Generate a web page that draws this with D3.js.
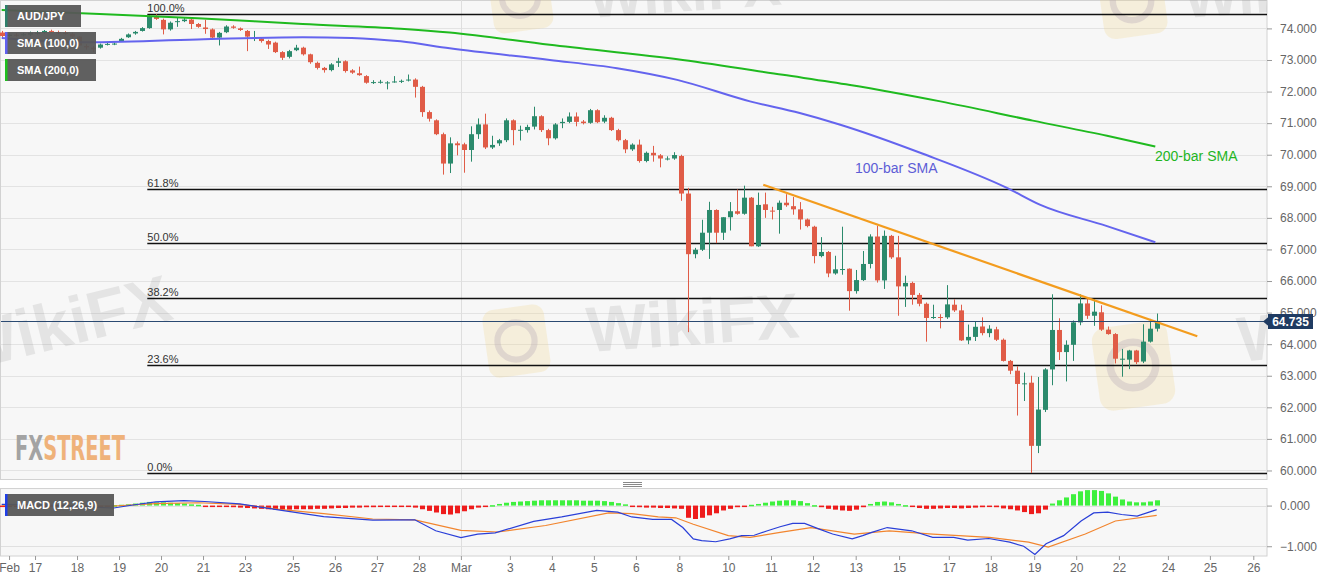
<!DOCTYPE html>
<html>
<head>
<meta charset="utf-8">
<script src="https://cdn.jsdelivr.net/npm/d3@7"></script>
<style>
html, body { margin: 0; padding: 0; background: #fff; }
svg { display: block; font-family: "Liberation Sans", Arial, sans-serif; }
</style>
</head>
<body>
<svg id="chart" width="1331" height="583"></svg>
<script>
// AUD/JPY 4h candles, bar 0 = first visible bar
var opens = [
  73.87,73.76,73.80,73.78,73.80,73.86,73.86,73.92,73.88,73.86,
  73.83,73.74,73.44,73.39,73.39,73.50,73.51,73.60,73.72,73.84,
  73.92,74.01,74.38,74.27,73.97,74.22,74.23,74.28,74.14,74.03,
  73.97,73.71,73.88,74.06,74.00,73.92,73.70,73.68,73.60,73.55,
  73.25,73.10,73.31,73.39,73.18,72.91,72.75,72.68,72.91,72.96,
  72.67,72.58,72.49,72.30,72.30,72.28,72.32,72.31,72.35,72.38,
  72.15,71.35,71.09,70.65,69.72,70.36,70.33,70.15,70.65,70.96,
  70.23,70.36,70.46,71.09,70.78,70.78,70.89,71.22,70.78,70.52,
  71.00,71.04,71.21,71.05,71.01,71.41,71.05,71.17,70.78,70.46,
  70.17,70.32,69.80,70.06,69.98,69.88,69.88,69.96,68.77,66.85,
  66.99,67.53,68.25,67.53,68.02,68.21,68.13,68.64,67.10,68.43,
  68.23,68.25,68.48,68.37,68.27,67.95,67.72,66.79,66.92,66.24,
  66.37,66.39,65.68,66.03,66.54,67.41,66.02,67.43,66.75,65.83,
  65.94,65.56,65.28,64.86,64.86,64.85,65.25,65.07,64.12,64.23,
  64.56,64.35,64.47,64.14,63.47,63.16,62.76,62.78,60.78,61.92,
  63.20,64.45,63.75,63.98,64.69,65.29,64.90,65.01,64.46,64.32,
  63.54,63.51,63.80,63.45,64.08,64.49
];
var highs = [
  73.92,73.84,73.85,73.86,73.90,73.92,73.95,73.96,73.93,73.91,
  73.87,73.76,73.50,73.44,73.52,73.56,73.56,73.70,73.84,73.92,
  74.04,74.42,74.45,74.31,74.22,74.33,74.33,74.31,74.17,74.27,
  74.00,73.89,74.10,74.10,74.03,73.95,73.92,73.72,73.64,73.58,
  73.28,73.32,73.48,73.42,73.20,72.95,72.78,72.90,73.07,72.99,
  72.71,72.79,72.52,72.36,72.37,72.33,72.49,72.38,72.54,72.42,
  72.18,71.40,71.12,70.70,70.55,70.42,70.38,70.90,71.15,71.30,
  70.60,70.50,71.15,71.12,70.92,70.95,71.52,71.25,70.82,71.00,
  71.15,71.34,71.34,71.10,71.45,71.44,71.25,71.20,70.82,70.50,
  70.36,70.48,70.10,70.28,70.02,69.95,70.08,70.00,68.95,67.05,
  67.94,68.51,68.27,68.02,68.50,68.90,69.02,68.66,68.80,68.80,
  68.35,68.55,68.75,68.66,68.50,67.98,67.75,67.39,66.95,66.80,
  67.72,66.40,66.35,66.95,67.48,67.75,67.60,67.46,67.43,66.17,
  65.98,65.62,65.32,65.25,64.95,65.87,65.42,65.25,64.62,64.72,
  64.85,64.60,64.55,64.18,63.50,63.30,63.10,63.00,62.96,63.24,
  65.58,64.82,64.12,64.75,65.58,65.44,65.43,65.23,64.56,64.35,
  63.85,63.82,63.82,64.63,64.80,64.97
];
var lows = [
  73.70,73.72,73.74,73.75,73.76,73.80,73.83,73.86,73.82,73.80,
  73.70,73.44,73.33,73.25,73.36,73.46,73.47,73.57,73.70,73.80,
  73.90,73.99,74.27,73.81,73.93,74.05,74.20,73.98,74.02,73.83,
  73.68,73.46,73.85,73.99,73.92,73.28,73.60,73.55,73.35,73.22,
  73.00,73.05,73.28,73.14,72.88,72.70,72.60,72.64,72.78,72.60,
  72.56,72.50,72.25,72.24,72.25,72.07,72.28,72.27,72.32,71.81,
  71.20,71.05,70.62,69.37,69.42,69.98,69.43,69.78,70.50,70.18,
  70.18,70.28,70.40,70.30,70.45,70.70,70.80,70.72,70.30,70.48,
  70.84,71.00,70.90,70.96,70.98,71.00,71.00,70.75,70.42,70.05,
  70.12,69.75,69.76,69.78,69.60,69.82,69.84,68.54,64.38,66.72,
  66.95,66.70,67.20,67.30,67.60,68.10,68.10,67.10,67.08,68.00,
  67.95,67.50,68.35,68.10,67.63,67.70,66.56,66.75,66.12,66.20,
  66.20,65.06,65.60,66.00,66.40,65.95,65.75,66.70,64.90,65.18,
  65.25,65.20,64.08,64.80,64.50,64.80,65.02,64.10,64.00,64.10,
  64.28,64.22,64.10,63.45,63.05,61.74,62.20,59.92,60.55,61.85,
  62.70,63.50,62.82,63.47,64.60,64.80,64.58,64.42,64.30,63.39,
  62.97,63.21,63.37,63.40,64.05,64.40
];
var closes = [
  73.76,73.80,73.78,73.82,73.86,73.86,73.92,73.89,73.87,73.84,
  73.74,73.46,73.40,73.34,73.49,73.51,73.52,73.67,73.81,73.89,
  74.01,74.38,74.30,73.97,74.18,74.23,74.28,74.14,74.05,73.98,
  73.71,73.86,74.06,74.02,73.95,73.74,73.70,73.60,73.49,73.25,
  73.07,73.28,73.39,73.18,72.93,72.75,72.68,72.86,72.96,72.65,
  72.60,72.52,72.28,72.30,72.31,72.29,72.32,72.34,72.38,72.15,
  71.35,71.14,70.65,69.72,70.36,70.30,70.15,70.65,70.96,70.23,
  70.31,70.46,71.09,70.78,70.79,70.88,71.22,70.78,70.52,70.96,
  71.04,71.21,71.04,71.00,71.41,71.03,71.17,70.78,70.46,70.17,
  70.32,69.80,70.06,69.98,69.88,69.88,69.99,68.77,66.85,66.99,
  67.53,68.25,67.53,68.02,68.21,68.13,68.64,67.10,68.41,68.25,
  68.21,68.48,68.40,68.27,67.95,67.74,66.79,66.92,66.24,66.37,
  66.38,65.68,66.03,66.54,67.41,66.02,67.43,66.75,65.83,65.94,
  65.56,65.28,64.83,64.86,64.85,65.26,65.07,64.12,64.23,64.55,
  64.35,64.49,64.14,63.47,63.16,62.74,62.76,60.78,61.93,63.20,
  64.45,63.75,63.98,64.69,65.29,64.90,65.03,64.46,64.32,63.54,
  63.54,63.80,63.43,64.08,64.49,64.735
];

// moving averages (bar, value)
var sma100Bar = [0, 11, 28, 43, 50, 57, 64, 78.3, 87.9, 96.5, 106.9, 114, 119.8, 131.6, 143.6, 148.3, 157.9, 164.8];
var sma100Val = [73.70, 73.56, 73.65, 73.72, 73.70, 73.59, 73.37, 73.00, 72.74, 72.37, 71.69, 71.32, 70.95, 70.03, 68.95, 68.42, 67.74, 67.23];
var sma200Bar = [0, 14, 28, 43, 57, 64, 78.3, 97.3, 111.6, 121.2, 134.1, 147.3, 157.9, 164.8];
var sma200Val = [74.58, 74.46, 74.32, 74.14, 73.99, 73.87, 73.48, 73.00, 72.53, 72.21, 71.69, 71.08, 70.60, 70.26];

// falling resistance line
var trendBar = [108.8, 170.8];
var trendVal = [69.05, 64.25];

// fibonacci retracement
var fibLabels = ["0.0%", "23.6%", "38.2%", "50.0%", "61.8%", "100.0%"];
var fibPrices = [59.92, 63.35, 65.47, 67.19, 68.90, 74.45];
var fibStartBar = 20.8;

var lastPrice = 64.735;

// MACD (12,26,9)
var macdHist = [
  -0.02,-0.02,-0.02,-0.01,-0.01,-0.01,-0.01,-0.01,-0.01,-0.02,
  -0.02,-0.02,-0.03,-0.03,-0.02,-0.01,0.01,0.02,0.03,0.05,
  0.07,0.09,0.08,0.08,0.07,0.06,0.05,0.03,0.02,-0.01,
  -0.02,-0.03,-0.03,-0.04,-0.05,-0.06,-0.07,-0.08,-0.09,-0.10,
  -0.10,-0.10,-0.09,-0.09,-0.09,-0.08,-0.08,-0.07,-0.06,-0.06,
  -0.05,-0.05,-0.04,-0.04,-0.03,-0.03,-0.02,-0.02,-0.02,-0.05,
  -0.09,-0.13,-0.17,-0.21,-0.22,-0.19,-0.14,-0.09,-0.05,-0.03,
  0.01,0.04,0.07,0.09,0.10,0.11,0.12,0.13,0.13,0.13,
  0.13,0.13,0.13,0.12,0.12,0.12,0.11,0.09,0.06,0.03,
  -0.02,-0.04,-0.05,-0.05,-0.06,-0.06,-0.07,-0.08,-0.30,-0.33,
  -0.30,-0.24,-0.19,-0.12,-0.08,-0.04,-0.01,0.02,0.04,0.07,
  0.10,0.12,0.13,0.13,0.11,0.06,0.01,-0.04,-0.08,-0.10,
  -0.12,-0.13,-0.10,-0.04,0.04,0.09,0.10,0.08,0.04,0.01,
  -0.03,-0.06,-0.08,-0.08,-0.07,-0.06,-0.06,-0.07,-0.06,-0.05,
  -0.04,-0.03,-0.04,-0.07,-0.09,-0.12,-0.16,-0.21,-0.19,-0.10,
  0.05,0.13,0.20,0.28,0.35,0.38,0.38,0.36,0.30,0.22,
  0.15,0.10,0.08,0.08,0.10,0.13
];
var macdBar = [0, 6, 12, 16, 19, 22, 26, 29, 34, 40, 46, 53, 59, 62, 65.6, 68, 70.5, 76, 80, 85, 88, 90, 93, 95.7, 97.3, 98.8, 100, 102, 104, 105.7, 107.5, 109.4, 111.2, 113, 114.7, 116.8, 118.7, 121.5, 123, 124.3, 126.5, 130, 133, 136, 138, 141, 144, 146, 147.6, 149.2, 151.7, 154.2, 156, 158, 160, 162.2, 165];
var macdVal = [0.03, 0.02, -0.03, -0.06, 0.02, 0.09, 0.12, 0.10, 0.04, -0.12, -0.27, -0.36, -0.35, -0.62, -0.79, -0.70, -0.67, -0.39, -0.28, -0.12, -0.16, -0.28, -0.34, -0.34, -0.54, -0.82, -0.86, -0.89, -0.82, -0.74, -0.73, -0.62, -0.52, -0.44, -0.44, -0.58, -0.70, -0.82, -0.74, -0.66, -0.54, -0.62, -0.78, -0.78, -0.85, -0.81, -0.90, -1.00, -1.20, -0.94, -0.74, -0.38, -0.18, -0.16, -0.22, -0.26, -0.10];
var signalBar = [0, 10, 16, 22, 28, 34, 40, 46, 53, 59, 65.6, 70.9, 77.7, 86.7, 90, 93.8, 96.3, 98.8, 103.8, 106.9, 111.2, 115.6, 121.8, 126.8, 133, 141.1, 146.7, 149.5, 154.8, 159.1, 165];
var signalVal = [0.01, 0.00, -0.01, 0.05, 0.07, 0.03, -0.10, -0.20, -0.33, -0.35, -0.61, -0.65, -0.49, -0.18, -0.20, -0.28, -0.30, -0.46, -0.74, -0.78, -0.66, -0.54, -0.70, -0.62, -0.70, -0.78, -0.90, -1.02, -0.70, -0.38, -0.24];

// x axis labels and where they sit (in bars)
var dayLabels = ["Feb","17","18","19","20","21","23","25","26","27","28","Mar","3","4","5","6","8","10","11","12","13","15","17","18","19","20","22","24","25","26"];
var dayBars = [1.05, 4.76, 10.76, 16.76, 22.76, 28.76, 34.76, 41.6, 47.6, 53.6, 59.6, 65.6, 72.6, 78.6, 84.6, 90.6, 96.8, 103.8, 109.9, 115.9, 122.0, 128.2, 135.3, 141.3, 147.5, 153.5, 159.6, 166.6, 172.6, 178.8];
var monthStartBar = 65.6;

var upColor = "#2b8a6c", downColor = "#e05c47";

var svg = d3.select("#chart");
var plotR = 1267, mainT = 0, mainB = 479, macdT = 488.5, macdB = 556;

var x = d3.scaleLinear().domain([0, 180]).range([1.7, 1261.7]);
var y = d3.scaleLinear().domain([59.73, 74.90]).range([mainB, mainT]);
var ym = d3.scaleLinear().domain([-1.24, 0.42]).range([macdB, macdT]);

svg.append("defs").append("clipPath").attr("id", "clipMain")
  .append("rect").attr("x", 0).attr("y", mainT).attr("width", plotR).attr("height", mainB - mainT);
svg.select("defs").append("clipPath").attr("id", "clipMacd")
  .append("rect").attr("x", 0).attr("y", macdT).attr("width", plotR).attr("height", macdB - macdT);

//// panels
svg.append("rect").attr("x", 0.5).attr("y", mainT + 0.5).attr("width", plotR - 0.5).attr("height", mainB - mainT)
  .attr("fill", "#f7f7f7").attr("stroke", "#d2d2d2");
svg.append("rect").attr("x", 0.5).attr("y", macdT).attr("width", plotR - 0.5).attr("height", macdB - macdT)
  .attr("fill", "#f7f7f7").attr("stroke", "#d2d2d2");

// gridlines
svg.append("g").selectAll("line").data(d3.range(60, 75)).enter().append("line")
  .attr("x1", 1).attr("x2", plotR).attr("y1", function(d){ return Math.round(y(d)) + 0.5; })
  .attr("y2", function(d){ return Math.round(y(d)) + 0.5; })
  .attr("stroke", "#e3e3e3");
svg.append("g").selectAll("line").data([0, -1]).enter().append("line")
  .attr("x1", 1).attr("x2", plotR).attr("y1", function(d){ return Math.round(ym(d)) + 0.5; })
  .attr("y2", function(d){ return Math.round(ym(d)) + 0.5; })
  .attr("stroke", "#e0e0e0");
[[mainT, mainB], [macdT, macdB]].forEach(function(p){
  svg.append("line").attr("x1", Math.round(x(monthStartBar)) + 0.5).attr("x2", Math.round(x(monthStartBar)) + 0.5)
    .attr("y1", p[0]).attr("y2", p[1]).attr("stroke", "#dedede");
});

//// watermark
var wm = svg.append("g").attr("clip-path", "url(#clipMain)");
function logo(cx, cy, s){
  wm.append("rect").attr("x", cx - s/2).attr("y", cy - s/2).attr("width", s).attr("height", s * 1.1)
    .attr("rx", s * 0.18).attr("fill", "#f3d27a").attr("opacity", 0.22)
    .attr("transform", "rotate(-8," + cx + "," + cy + ")");
  wm.append("circle").attr("cx", cx).attr("cy", cy + 3).attr("r", s * 0.3)
    .attr("fill", "none").attr("stroke", "#b8a8b8").attr("stroke-width", s * 0.1).attr("opacity", 0.35);
}
function wmText(tx, ty, size, rot){
  wm.append("text").attr("x", tx).attr("y", ty).attr("font-size", size).attr("font-weight", "bold")
    .attr("fill", "#8a8a8a").attr("opacity", 0.17)
    .attr("transform", "rotate(" + rot + "," + tx + "," + ty + ")")
    .text("WikiFX");
}
logo(516, 338, 62);
logo(1133, 362, 76);
logo(520, -5, 60);
logo(1132, -2, 64);
wmText(588, 352, 64, -4);
wmText(-38, 372, 66, -14);
wmText(1240, 362, 64, -6);
wmText(590, 18, 58, -4);
wmText(1185, 18, 58, -4);

// FXSTREET mark
var fx = svg.append("text").attr("x", 15).attr("y", 460).attr("font-size", 33).attr("font-weight", "bold")
  .attr("font-family", "'Liberation Sans Narrow','DejaVu Sans Condensed',sans-serif")
  .attr("textLength", 110).attr("lengthAdjust", "spacingAndGlyphs");
fx.append("tspan").attr("fill", "#a3a3a3").text("FX");
fx.append("tspan").attr("fill", "#efb27a").text("STREET");

//// fibonacci
var fib = svg.append("g");
fibPrices.forEach(function(p, k){
  var yy = Math.round(y(p)) + 0.5;
  fib.append("line").attr("x1", x(fibStartBar)).attr("x2", plotR).attr("y1", yy).attr("y2", yy)
    .attr("stroke", "#111").attr("stroke-width", 1.3);
  fib.append("text").attr("x", x(fibStartBar)).attr("y", yy - 3).attr("font-size", 11).attr("fill", "#333")
    .text(fibLabels[k]);
});

//// candles
var candles = svg.append("g").attr("clip-path", "url(#clipMain)");
var idx = d3.range(opens.length);
candles.selectAll("line").data(idx).enter().append("line")
  .attr("x1", function(i){ return Math.round(x(i)) + 0.5; })
  .attr("x2", function(i){ return Math.round(x(i)) + 0.5; })
  .attr("y1", function(i){ return y(highs[i]); })
  .attr("y2", function(i){ return y(lows[i]); })
  .attr("stroke", function(i){ return closes[i] >= opens[i] ? upColor : downColor; })
  .attr("stroke-width", 1);
candles.selectAll("rect").data(idx).enter().append("rect")
  .attr("x", function(i){ return Math.round(x(i)) - 2; })
  .attr("width", 5)
  .attr("y", function(i){ return y(Math.max(opens[i], closes[i])); })
  .attr("height", function(i){ return Math.max(1, Math.abs(y(opens[i]) - y(closes[i]))); })
  .attr("fill", function(i){ return closes[i] >= opens[i] ? upColor : downColor; });

//// moving averages and trend line
var lines = svg.append("g").attr("clip-path", "url(#clipMain)");
function pts(bs, vs){ return bs.map(function(b, k){ return [b, vs[k]]; }); }
var maLine = d3.line().x(function(d){ return x(d[0]); }).y(function(d){ return y(d[1]); }).curve(d3.curveMonotoneX);
lines.append("path").attr("d", maLine(pts(sma200Bar, sma200Val))).attr("fill", "none")
  .attr("stroke", "#1fba1f").attr("stroke-width", 2);
lines.append("path").attr("d", maLine(pts(sma100Bar, sma100Val))).attr("fill", "none")
  .attr("stroke", "#6464ee").attr("stroke-width", 2);
lines.append("path").attr("d", d3.line().x(function(d){ return x(d[0]); }).y(function(d){ return y(d[1]); })(pts(trendBar, trendVal)))
  .attr("fill", "none").attr("stroke", "#f39c1e").attr("stroke-width", 2.2);

svg.append("text").attr("x", 855).attr("y", 173).attr("font-size", 14).attr("fill", "#5d5dd6").text("100-bar SMA");
svg.append("text").attr("x", 1155).attr("y", 161).attr("font-size", 14).attr("fill", "#1fb51f").text("200-bar SMA");

// last price
var yl = Math.round(y(lastPrice)) + 0.5;
svg.append("line").attr("x1", 1).attr("x2", plotR).attr("y1", yl).attr("y2", yl).attr("stroke", "#2b4a72").attr("stroke-width", 1);

//// MACD panel
var macdG = svg.append("g").attr("clip-path", "url(#clipMacd)");
macdG.selectAll("rect").data(idx).enter().append("rect")
  .attr("x", function(i){ return Math.round(x(i)) - 2; })
  .attr("width", 5)
  .attr("y", function(i){ return Math.min(ym(0), ym(macdHist[i])); })
  .attr("height", function(i){ return Math.max(1.5, Math.abs(ym(macdHist[i]) - ym(0))); })
  .attr("fill", function(i){ return macdHist[i] >= 0 ? "#3ef03e" : "#ee1c1c"; });
var mLine = d3.line().x(function(d){ return x(d[0]); }).y(function(d){ return ym(d[1]); });
macdG.append("path").attr("d", mLine(pts(signalBar, signalVal))).attr("fill", "none")
  .attr("stroke", "#f2852e").attr("stroke-width", 1.2);
macdG.append("path").attr("d", mLine(pts(macdBar, macdVal))).attr("fill", "none")
  .attr("stroke", "#2a3fd8").attr("stroke-width", 1.2);

// panel splitter handle
[482, 484, 486].forEach(function(h){
  svg.append("line").attr("x1", 623).attr("x2", 642).attr("y1", h + 0.5).attr("y2", h + 0.5).attr("stroke", "#888");
});

//// axes
var yAxis = d3.axisRight(y).tickValues(d3.range(60, 75)).tickFormat(d3.format(".3f")).tickSize(5).tickPadding(8);
var gy = svg.append("g").attr("transform", "translate(" + plotR + ",0)").call(yAxis);
var ymAxis = d3.axisRight(ym).tickValues([0, -1]).tickFormat(d3.format(".3f")).tickSize(5).tickPadding(8);
var gym = svg.append("g").attr("transform", "translate(" + plotR + ",0)").call(ymAxis);
var xAxis = d3.axisBottom(x).tickValues(dayBars).tickFormat(function(d, k){ return dayLabels[k]; }).tickSize(4).tickPadding(3);
var gx = svg.append("g").attr("transform", "translate(0," + macdB + ")").call(xAxis);
[gy, gym, gx].forEach(function(g){
  g.select(".domain").remove();
  g.selectAll(".tick line").attr("stroke", "#999");
  g.selectAll(".tick text").attr("fill", "#666").attr("font-size", 12).attr("font-family", "'Liberation Sans', Arial, sans-serif");
});

// last price tag
svg.append("path").attr("d", "M1263," + yl + "L1269," + (yl - 5) + "L1269," + (yl + 5) + "Z").attr("fill", "#1f3b62");
svg.append("rect").attr("x", 1268).attr("y", yl - 7.5).attr("width", 45).attr("height", 15).attr("fill", "#1f3b62");
svg.append("text").attr("x", 1290.5).attr("y", yl + 4).attr("text-anchor", "middle").attr("font-size", 12)
  .attr("font-weight", "bold").attr("fill", "#fff").text(lastPrice.toFixed(3));

//// legend boxes
var legend = [
  {label: "AUD/JPY", y: 5, w: 76, color: "#2d7f6a"},
  {label: "SMA (100,0)", y: 32, w: 91, color: "#6060f0"},
  {label: "SMA (200,0)", y: 59, w: 91, color: "#1ec01e"},
  {label: "MACD (12,26,9)", y: 494, w: 109, color: "#1f3fe8"}
];
legend.forEach(function(l){
  svg.append("rect").attr("x", 5).attr("y", l.y).attr("width", l.w).attr("height", 22).attr("fill", "#575757").attr("opacity", 0.95);
  svg.append("rect").attr("x", 5).attr("y", l.y).attr("width", 2.5).attr("height", 22).attr("fill", l.color);
  svg.append("text").attr("x", 17).attr("y", l.y + 15).attr("font-size", 11).attr("font-weight", "bold")
    .attr("fill", "#fff").text(l.label);
});
</script>
</body>
</html>
